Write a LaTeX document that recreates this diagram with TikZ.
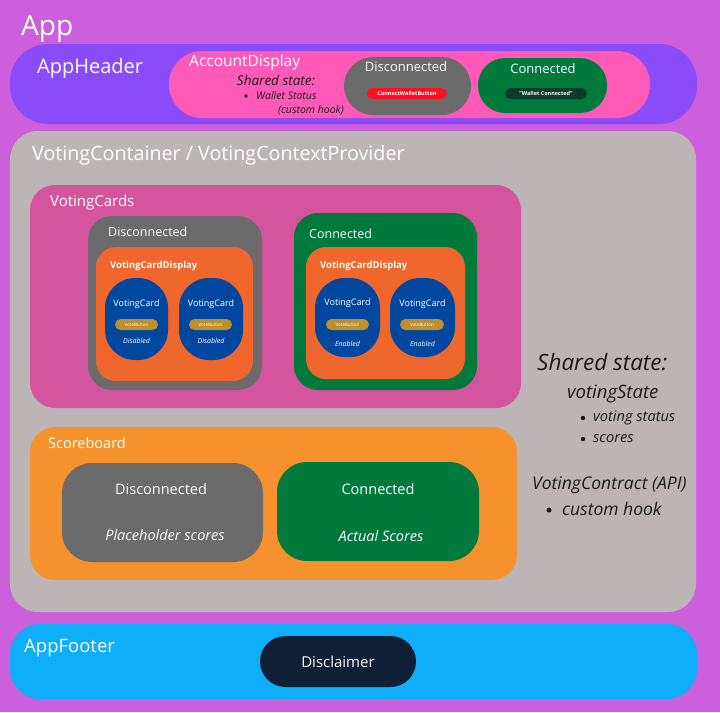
\documentclass[tikz,border=0pt]{standalone}
\usepackage{fontspec}
\setmainfont{Open Sans}
\definecolor{bgc}{HTML}{CC5FDC}
\definecolor{headc}{HTML}{8A4BF8}
\definecolor{accc}{HTML}{FF5AB8}
\definecolor{grayc}{HTML}{6B6B6B}
\definecolor{greenc}{HTML}{007A3A}
\definecolor{redc}{HTML}{FF1020}
\definecolor{dgreenc}{HTML}{0A3C28}
\definecolor{contc}{HTML}{BDB5B5}
\definecolor{cardsc}{HTML}{D4559E}
\definecolor{orangec}{HTML}{F0672E}
\definecolor{bluec}{HTML}{0047A0}
\definecolor{votec}{HTML}{BF8F2E}
\definecolor{scorec}{HTML}{F5922E}
\definecolor{footc}{HTML}{0EAEF8}
\definecolor{discc}{HTML}{0F1F35}
\newcommand\rbox[7]{\node[rb, fill=#7, rounded corners=#6pt, minimum width=#4pt-#2pt, minimum height=#5pt-#3pt] (#1) at ({(#2+#4)/2},{(#3+#5)/2}) {};}
\tikzset{
  rb/.style={inner sep=0pt, outer sep=0pt, draw=none, shape=rectangle},
  wt/.style={text=white, inner sep=0pt, font=#1},
  bt/.style={text=black!90, inner sep=0pt, font=#1},
  bul/.style={fill=black!90},
}
\begin{document}
\begin{tikzpicture}[x=1pt,y=-1pt]
\path[fill=bgc] (0,0) rectangle (720,712);
\useasboundingbox (0,0) rectangle (720,712);
\node[wt={\fontsize{28}{30}\selectfont}, anchor=west] (app) at (21,29) {App};
% header
\rbox{header}{10}{44}{697}{124}{38}{headc}
\node[wt={\fontsize{20}{22}\selectfont}, anchor=west] (headert) at (37,68) {AppHeader};
\rbox{acc}{169}{51}{650}{118}{33}{accc}
\node[wt={\fontsize{15.5}{17}\selectfont}, anchor=west] (acct) at (189,62) {AccountDisplay};
\node[bt={\itshape\fontsize{13.5}{15}\selectfont}] (accss) at (276,80) {Shared state:};
\fill[bul] (246,96) circle (1.8);
\node[bt={\itshape\fontsize{10.5}{12}\selectfont}, anchor=west] (accws) at (256,96) {Wallet Status};
\node[bt={\itshape\fontsize{10.5}{12}\selectfont}, anchor=east] (accch) at (344,110) {(custom hook)};
\rbox{hdis}{344}{57}{471}{115}{29}{grayc}
\node[wt={\fontsize{13}{14}\selectfont}] (hdist) at (406,67) {Disconnected};
\rbox{hbtn}{367}{88}{447}{99}{5.5}{redc}
\node[wt={\bfseries\fontsize{5.5}{6}\selectfont}] at (hbtn) {ConnectWalletButton};
\rbox{hcon}{478}{58}{607}{113}{27}{greenc}
\node[wt={\fontsize{13}{14}\selectfont}] (hcont) at (543,69) {Connected};
\rbox{hwc}{505}{88}{587}{99}{5.5}{dgreenc}
\node[wt={\bfseries\fontsize{5.5}{6}\selectfont}] at (hwc) {"Wallet Connected"};
% container
\rbox{cont}{10}{131}{696}{612}{28}{contc}
\node[wt={\fontsize{19.7}{21}\selectfont}, anchor=west] (contt) at (32,155) {VotingContainer / VotingContextProvider};
\rbox{cards}{30}{185}{521}{408}{25}{cardsc}
\node[wt={\fontsize{15}{16}\selectfont}, anchor=west] (cardst) at (50,203) {VotingCards};
% disconnected cards
\rbox{cdis}{88}{216}{262}{390}{24}{grayc}
\node[wt={\fontsize{12.5}{14}\selectfont}, anchor=west] (cdist) at (108,232) {Disconnected};
\rbox{dispA}{96}{247}{253}{381}{20}{orangec}
\node[wt={\bfseries\fontsize{9.5}{11}\selectfont}, anchor=west] (dispAt) at (110,266) {VotingCardDisplay};
\rbox{vc1}{105}{278}{168}{360}{30}{bluec}
\node[wt={\fontsize{9}{10}\selectfont}] at (136.5,304) {VotingCard};
\rbox{vb1}{115}{319}{158}{330}{5.5}{votec}
\node[wt={\fontsize{4.5}{5}\selectfont}] at (vb1) {VoteButton};
\node[wt={\itshape\fontsize{7}{8}\selectfont}] at (136.5,341) {Disabled};
\rbox{vc2}{179}{278}{243}{360}{30}{bluec}
\node[wt={\fontsize{9}{10}\selectfont}] at (211,304) {VotingCard};
\rbox{vb2}{189}{319}{232}{330}{5.5}{votec}
\node[wt={\fontsize{4.5}{5}\selectfont}] at (vb2) {VoteButton};
\node[wt={\itshape\fontsize{7}{8}\selectfont}] at (211,341) {Disabled};
% connected cards
\rbox{ccon}{294}{213}{477}{390}{24}{greenc}
\node[wt={\fontsize{12.5}{14}\selectfont}, anchor=west] (ccont) at (309,234) {Connected};
\rbox{dispB}{306}{247}{465}{379}{20}{orangec}
\node[wt={\bfseries\fontsize{9.5}{11}\selectfont}, anchor=west] (dispBt) at (320,266) {VotingCardDisplay};
\rbox{vc3}{315}{278}{380}{357}{30}{bluec}
\node[wt={\fontsize{9}{10}\selectfont}] at (347.5,303) {VotingCard};
\rbox{vb3}{326}{319}{369}{330}{5.5}{votec}
\node[wt={\fontsize{4.5}{5}\selectfont}] at (vb3) {VoteButton};
\node[wt={\itshape\fontsize{7}{8}\selectfont}] at (347.5,344) {Enabled};
\rbox{vc4}{390}{278}{455}{357}{30}{bluec}
\node[wt={\fontsize{9}{10}\selectfont}] at (422.5,304) {VotingCard};
\rbox{vb4}{400}{319}{444}{330}{5.5}{votec}
\node[wt={\fontsize{4.5}{5}\selectfont}] at (vb4) {VoteButton};
\node[wt={\itshape\fontsize{7}{8}\selectfont}] at (422.5,344) {Enabled};
% shared state
\node[bt={\itshape\fontsize{22.5}{24}\selectfont}, anchor=west] (ss) at (537,362) {Shared state:};
\node[bt={\itshape\fontsize{18.5}{20}\selectfont}, anchor=west] (vs) at (567,394) {votingState};
\fill[bul] (583,418) circle (2.2);
\node[bt={\itshape\fontsize{14.6}{16}\selectfont}, anchor=west] (vs1) at (593,418) {voting status};
\fill[bul] (583,439) circle (2.2);
\node[bt={\itshape\fontsize{14.6}{16}\selectfont}, anchor=west] (vs2) at (593,439) {scores};
\node[bt={\itshape\fontsize{17.5}{19}\selectfont}, anchor=west] (vcapi) at (532,485) {VotingContract (API)};
\fill[bul] (549,510) circle (2.5);
\node[bt={\itshape\fontsize{17.5}{19}\selectfont}, anchor=west] (vch) at (562,509) {custom hook};
% scoreboard
\rbox{score}{30}{427}{517}{580}{25}{scorec}
\node[wt={\fontsize{14.5}{16}\selectfont}, anchor=west] (scoret) at (48,443) {Scoreboard};
\rbox{sdis}{62}{463}{263}{562}{30}{grayc}
\node[wt={\fontsize{14.5}{16}\selectfont}] (sdist) at (161,489) {Disconnected};
\node[wt={\itshape\fontsize{14.5}{16}\selectfont}] (sdisp) at (165,535) {Placeholder scores};
\rbox{scon}{277}{462}{479}{561}{30}{greenc}
\node[wt={\fontsize{14.5}{16}\selectfont}] (scont) at (378,489) {Connected};
\node[wt={\itshape\fontsize{14.5}{16}\selectfont}] (scona) at (381,536) {Actual Scores};
% footer
\rbox{foot}{10}{624}{697}{699}{30}{footc}
\node[wt={\fontsize{18.5}{20}\selectfont}, anchor=west] (foott) at (24,648) {AppFooter};
\rbox{disc}{260}{636}{416}{687}{25.5}{discc}
\node[wt={\fontsize{15}{17}\selectfont}] (disct) at (338,662) {Disclaimer};
\end{tikzpicture}
\end{document}
